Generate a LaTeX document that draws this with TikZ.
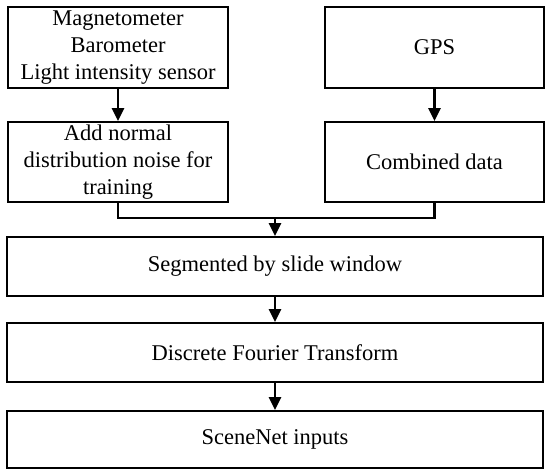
\documentclass[tikz,border=0pt]{standalone}
\usepackage{fontspec}
\setmainfont{Liberation Serif}
\usetikzlibrary{arrows.meta}
\begin{document}
\begin{tikzpicture}[x=1pt,y=-1pt,
  box/.style={draw, line width=1.8pt, inner sep=0pt, align=center, font=\fontsize{22.5}{27}\selectfont},
  link/.style={line width=2.4pt},
  arr/.style={line width=2.4pt, -{Triangle[length=13pt,width=12pt]}}]
\useasboundingbox (0,0) rectangle (550,474);
\node[box, minimum width=220pt, minimum height=81pt] (sens) at (118,47.5) {Magnetometer\\Barometer\\Light intensity sensor};
\node[box, minimum width=220pt, minimum height=80pt] (noise) at (118,162) {Add normal\\distribution noise for\\training};
\node[box, minimum width=219pt, minimum height=81pt] (gps) at (434.5,47.5) {GPS};
\node[box, minimum width=219pt, minimum height=80pt] (comb) at (434.5,162) {Combined data};
\node[box, minimum width=536pt, minimum height=59pt] (seg) at (275,266.5) {Segmented by slide window};
\node[box, minimum width=536pt, minimum height=59pt] (dft) at (275,352.5) {Discrete Fourier Transform};
\node[box, minimum width=536pt, minimum height=57pt] (scn) at (275,439.5) {SceneNet inputs};
\coordinate (m) at (275,218);
\draw[arr] (sens) -- (noise);
\draw[arr] (gps) -- (comb);
\draw[link] (noise.south) |- (m);
\draw[link] (comb.south) |- (m);
\draw[arr] (m) -- (seg.north);
\draw[arr] (seg) -- (dft);
\draw[arr] (dft) -- (scn);
\end{tikzpicture}
\end{document}
